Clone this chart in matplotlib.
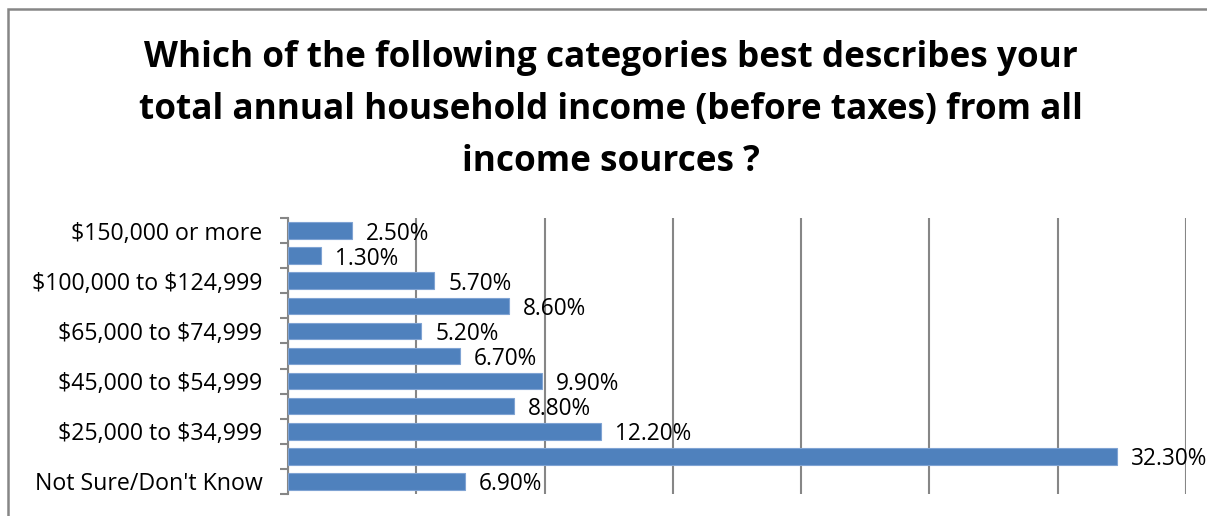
import matplotlib
matplotlib.use("Agg")
import matplotlib.pyplot as plt
from matplotlib.patches import Rectangle
from matplotlib.ticker import FixedLocator, MultipleLocator

plt.rcParams['font.family'] = ['Open Sans', 'DejaVu Sans']
plt.rcParams['text.parse_math'] = False

title = ("Which of the following categories best describes your\n"
         "total annual household income (before taxes) from all\n"
         "income sources ?")

categories = [
    "$150,000 or more",
    "$125,000 to $149,999",
    "$100,000 to $124,999",
    "$75,000 to $99,999",
    "$65,000 to $74,999",
    "$55,000 to $64,999",
    "$45,000 to $54,999",
    "$35,000 to $44,999",
    "$25,000 to $34,999",
    "Less than $25,000",
    "Not Sure/Don't Know",
]
values = [2.5, 1.3, 5.7, 8.6, 5.2, 6.7, 9.9, 8.8, 12.2, 32.3, 6.9]
x_max = 35
x_step = 5

W, H = 1207, 516
fig = plt.figure(figsize=(W / 100, H / 100), dpi=100)

# outer chart frame
fig.patches.append(Rectangle((8 / W, -0.05), 1.1, 1 - 9 / H + 0.05,
                             transform=fig.transFigure, fill=False,
                             edgecolor="#868686", linewidth=1.8))

fig.text(0.5065, 1 - 110 / H, title, ha="center", va="center",
         fontsize=25.3, fontweight="bold", linespacing=1.58)

ax = fig.add_axes([288 / W, 1 - 494 / H, (1186 - 288) / W, (494 - 218) / H])

n = len(categories)
ypos = list(range(n))
bar_color = "#4F81BD"
ax.barh(ypos, values, height=0.66, color=bar_color,
        edgecolor="#7FA3D3", linewidth=0.8, zorder=3)

for y, v in zip(ypos, values):
    ax.annotate(f"{v:.2f}%", xy=(v, y), xytext=(14, -3),
                textcoords="offset pixels",
                ha="left", va="center", fontsize=16.3, color="black", zorder=4)

ax.set_xlim(0, x_max)
ax.set_ylim(n - 0.5, -0.5)
ax.xaxis.set_major_locator(MultipleLocator(x_step))
ax.grid(axis="x", color="#868686", linewidth=1.5, zorder=0)
ax.set_axisbelow(True)
ax.tick_params(axis="x", bottom=False, labelbottom=False)

# show every other category label; tick marks sit on category boundaries
ax.yaxis.set_major_locator(FixedLocator(ypos[::2]))
ax.set_yticklabels(categories[::2], fontsize=16.7)
ax.yaxis.set_minor_locator(FixedLocator([i - 0.5 for i in range(n + 1)]))
ax.tick_params(axis="y", which="major", length=0, pad=18.5)
ax.tick_params(axis="y", which="minor", length=5.5, width=1.5, color="#868686")

for s in ("top", "right", "bottom"):
    ax.spines[s].set_visible(False)
ax.spines["left"].set_color("#868686")
ax.spines["left"].set_linewidth(1.5)

fig.savefig("out.png", dpi=100)
